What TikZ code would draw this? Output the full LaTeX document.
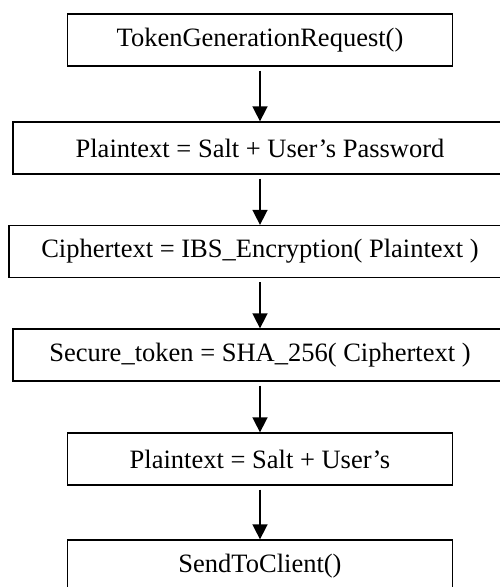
\documentclass[tikz,border=0pt]{standalone}
\usepackage{fontspec}
\setmainfont{Liberation Serif}
\usetikzlibrary{arrows.meta}
\begin{document}
\begin{tikzpicture}[x=1pt,y=-1pt,
  box/.style={draw,line width=1.3pt,minimum height=52pt,inner sep=0pt,font=\fontsize{26.5}{30}\selectfont},
  flow/.style={-{Triangle[length=15pt,width=15pt]},line width=1.6pt,shorten <=4pt}]
\useasboundingbox (0,0) rectangle (500,587);
\node[box,minimum width=385pt] (b1) at (260,40) {TokenGenerationRequest()};
\node[box,minimum width=494pt] (b2) at (260,148) {Plaintext = Salt + User’s Password};
\node[box,minimum width=502pt] (b3) at (260,251.5) {Ciphertext = IBS\_Encryption( Plaintext )};
\node[box,minimum width=494pt] (b4) at (260,355) {Secure\_token = SHA\_256( Ciphertext )};
\node[box,minimum width=385pt] (b5) at (260,459) {Plaintext = Salt + User’s};
\node[box,minimum width=385pt] (b6) at (260,566) {SendToClient()};
\draw[flow] (b1) -- (b2);
\draw[flow] (b2) -- (b3);
\draw[flow] (b3) -- (b4);
\draw[flow] (b4) -- (b5);
\draw[flow] (b5) -- (b6);
\end{tikzpicture}
\end{document}
